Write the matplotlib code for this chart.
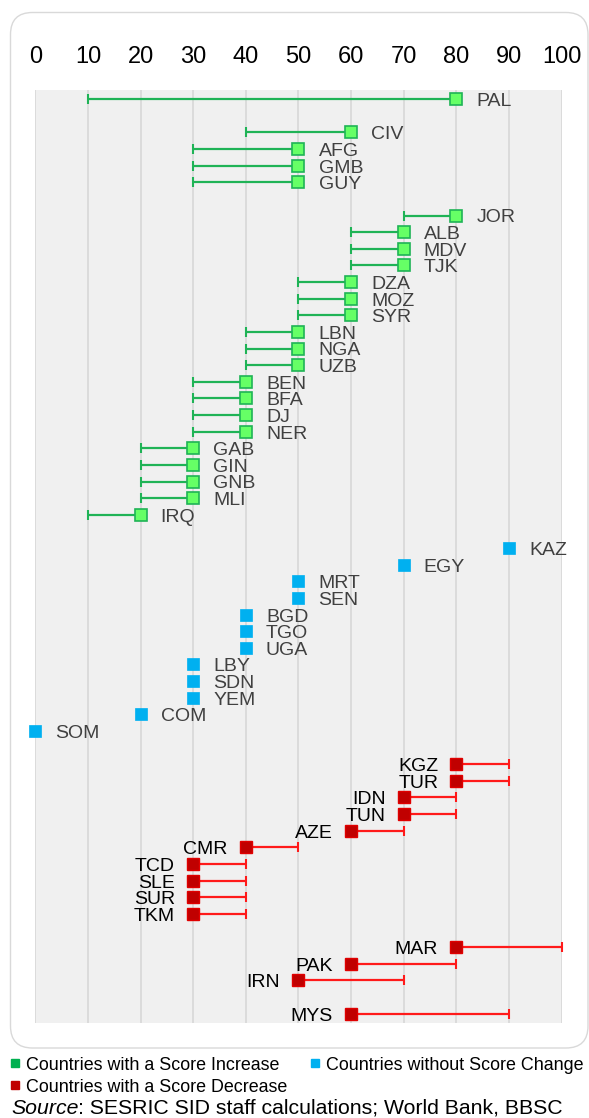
import matplotlib
matplotlib.use("Agg")
import matplotlib.pyplot as plt
from matplotlib.patches import FancyBboxPatch
from matplotlib.lines import Line2D

plt.rcParams['font.family'] = ['Liberation Sans', 'DejaVu Sans']

# ---- data ----
inc_countries = ['PAL', 'CIV', 'AFG', 'GMB', 'GUY', 'JOR', 'ALB', 'MDV', 'TJK', 'DZA', 'MOZ', 'SYR',
                 'LBN', 'NGA', 'UZB', 'BEN', 'BFA', 'DJ', 'NER', 'GAB', 'GIN', 'GNB', 'MLI', 'IRQ']
inc_before = [10, 40, 30, 30, 30, 70, 60, 60, 60, 50, 50, 50, 40, 40, 40, 30, 30, 30, 30, 20, 20, 20, 20, 10]
inc_after = [80, 60, 50, 50, 50, 80, 70, 70, 70, 60, 60, 60, 50, 50, 50, 40, 40, 40, 40, 30, 30, 30, 30, 20]

same_countries = ['KAZ', 'EGY', 'MRT', 'SEN', 'BGD', 'TGO', 'UGA', 'LBY', 'SDN', 'YEM', 'COM', 'SOM']
same_score = [90, 70, 50, 50, 40, 40, 40, 30, 30, 30, 20, 0]

dec_countries = ['KGZ', 'TUR', 'IDN', 'TUN', 'AZE', 'CMR', 'TCD', 'SLE', 'SUR', 'TKM', 'MAR', 'PAK', 'IRN', 'MYS']
dec_before = [90, 90, 80, 80, 70, 50, 40, 40, 40, 40, 100, 80, 70, 90]
dec_after = [80, 80, 70, 70, 60, 40, 30, 30, 30, 30, 80, 60, 50, 60]

# row order from top to bottom ('' = empty row)
row_order = ['PAL', '', 'CIV', 'AFG', 'GMB', 'GUY', '', 'JOR', 'ALB', 'MDV', 'TJK', 'DZA', 'MOZ', 'SYR',
             'LBN', 'NGA', 'UZB', 'BEN', 'BFA', 'DJ', 'NER', 'GAB', 'GIN', 'GNB', 'MLI', 'IRQ', '',
             'KAZ', 'EGY', 'MRT', 'SEN', 'BGD', 'TGO', 'UGA', 'LBY', 'SDN', 'YEM', 'COM', 'SOM', '',
             'KGZ', 'TUR', 'IDN', 'TUN', 'AZE', 'CMR', 'TCD', 'SLE', 'SUR', 'TKM', '',
             'MAR', 'PAK', 'IRN', '', 'MYS']
ticks = [0, 10, 20, 30, 40, 50, 60, 70, 80, 90, 100]

legend_labels = ['Countries with a Score Increase', 'Countries without Score Change',
                 'Countries with a Score Decrease']
source_text = 'SESRIC SID staff calculations; World Bank, BBSC'

ypos = {c: i for i, c in enumerate(row_order) if c}

W, H = 589, 1118
fig = plt.figure(figsize=(W / 100, H / 100), dpi=100)

# outer rounded frame (pixel coords)
frame = FancyBboxPatch((10.5, H - 1048), 588 - 10.5, 1048 - 12.5,
                       boxstyle="round,pad=0,rounding_size=22",
                       transform=None, facecolor='white', edgecolor='#d9d9d9',
                       linewidth=1.0, zorder=-5)
fig.patches.append(frame)

ax = fig.add_axes([35.3 / W, 1 - 1022.7 / H, (561.5 - 35.3) / W, (1022.7 - 90) / H])
ax.set_zorder(2)
ax.set_facecolor('#f0f0f0')
ax.set_xlim(0, 100)
ax.set_ylim(len(row_order) - 0.45, -0.55)
for s in ax.spines.values():
    s.set_visible(False)
ax.set_yticks([])
ax.set_xticks(ticks)
ax.xaxis.tick_top()
ax.tick_params(axis='x', length=0, pad=16, labelsize=17, labelcolor='black')
ax.grid(axis='x', color='#d9d9d9', linewidth=1.3)
ax.set_axisbelow(True)

green_line = '#1fb356'
green_fill = '#66ff66'
green_edge = '#1fb356'
blue = '#00b0f0'
red_line = '#ff1a1a'
red_fill = '#c00000'

lab_fs = 14
cap_off = -0.716 * lab_fs / 2

# increases
for c, b, a in zip(inc_countries, inc_before, inc_after):
    y = ypos[c]
    ax.plot([b, a], [y, y], color=green_line, lw=1.6, zorder=3, solid_capstyle='butt')
    ax.plot([b], [y], marker='|', color=green_line, markersize=6.5, mew=1.5, zorder=3)
    ax.plot([a], [y], marker='s', markersize=8.3, markerfacecolor=green_fill,
            markeredgecolor=green_edge, mew=1.2, zorder=4)
    ax.annotate(c, (a, y), xytext=(14.5, cap_off), textcoords='offset points',
                va='baseline', ha='left', fontsize=lab_fs, color='#404040', zorder=5)

# no change
for c, v in zip(same_countries, same_score):
    y = ypos[c]
    ax.plot([v], [y], marker='s', markersize=8.3, markerfacecolor=blue,
            markeredgecolor=blue, mew=0.5, zorder=4, clip_on=False)
    ax.annotate(c, (v, y), xytext=(14.5, cap_off), textcoords='offset points',
                va='baseline', ha='left', fontsize=lab_fs, color='#404040', zorder=5)

# decreases
for c, b, a in zip(dec_countries, dec_before, dec_after):
    y = ypos[c]
    ax.plot([a, b], [y, y], color=red_line, lw=1.6, zorder=3, solid_capstyle='butt')
    ax.plot([b], [y], marker='|', color=red_line, markersize=6.5, mew=1.5, zorder=3, clip_on=False)
    ax.plot([a], [y], marker='s', markersize=8.3, markerfacecolor=red_fill,
            markeredgecolor='#e00000', mew=1.0, zorder=4)
    ax.annotate(c, (a, y), xytext=(-13, cap_off), textcoords='offset points',
                va='baseline', ha='right', fontsize=lab_fs, color='black', zorder=5)

# legend
leg_colors = ['#00b050', '#00b0f0', '#c00000']
leg_pos = [(15, 1063), (315, 1063), (15, 1085)]
for (px, py), col, lab in zip(leg_pos, leg_colors, legend_labels):
    fig.add_artist(Line2D([px / W], [1 - py / H], marker='s', markersize=5.2,
                          color=col, linestyle='none', transform=fig.transFigure))
    fig.text((px + 11) / W, 1 - py / H, lab, fontsize=12.9, color='black',
             va='center_baseline', ha='left')

t1 = fig.text(11 / W, 1 - 1106 / H, 'Source', fontsize=15.3, style='italic',
              va='center_baseline', ha='left')
fig.canvas.draw()
bb = t1.get_window_extent()
fig.text(bb.x1 / W, 1 - 1106 / H, ': ' + source_text, fontsize=15.3,
         va='center_baseline', ha='left')

fig.savefig('out.png', dpi=100)
